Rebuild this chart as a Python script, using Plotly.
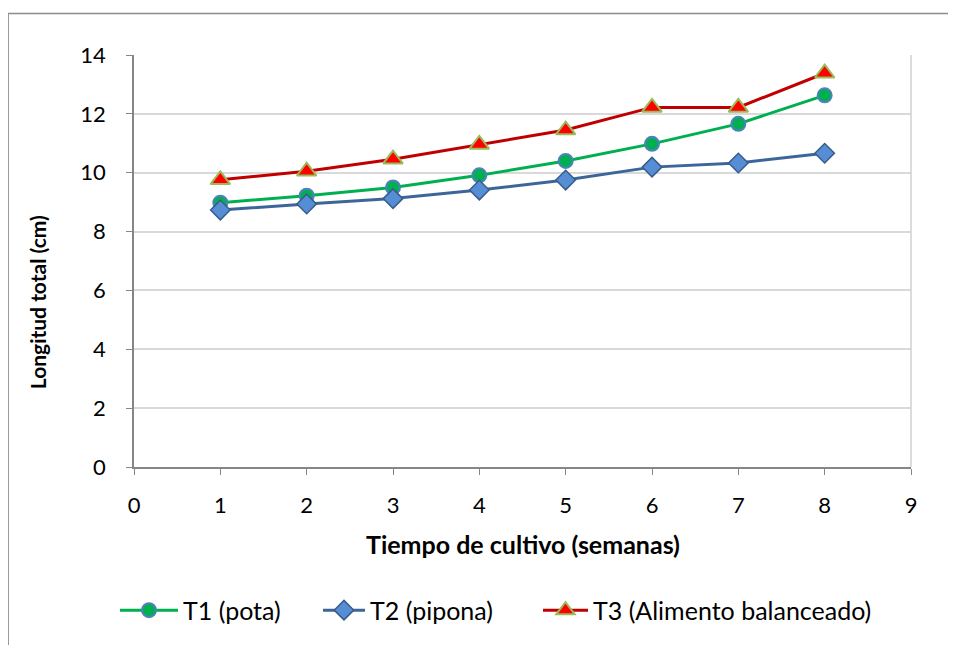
import plotly.graph_objects as go

weeks = [1, 2, 3, 4, 5, 6, 7, 8]
t1_pota = [8.98, 9.22, 9.50, 9.91, 10.40, 10.98, 11.66, 12.63]
t2_pipona = [8.73, 8.94, 9.12, 9.41, 9.75, 10.19, 10.33, 10.66]
t3_balanceado = [9.76, 10.05, 10.46, 10.96, 11.45, 12.22, 12.22, 13.38]
names = ["T1 (pota)", "T2 (pipona)", "T3 (Alimento balanceado)"]
x_title = "Tiempo de cultivo (semanas)"
y_title = "Longitud total (cm)"

FONT = "Lato"

fig = go.Figure()
fig.add_trace(go.Scatter(
    x=weeks, y=t1_pota, name=names[0], mode="lines+markers", legend="legend",
    line=dict(color="#00b050", width=3),
    marker=dict(symbol="circle", size=14, color="#00b050",
                line=dict(color="#4f81bd", width=2))))
fig.add_trace(go.Scatter(
    x=weeks, y=t2_pipona, name=names[1], mode="lines+markers", legend="legend2",
    line=dict(color="#3c6699", width=3),
    marker=dict(symbol="diamond", size=15, color="#558ed5",
                line=dict(color="#385d8a", width=1.5))))
fig.add_trace(go.Scatter(
    x=weeks, y=t3_balanceado, name=names[2], mode="lines+markers", legend="legend3",
    line=dict(color="#c00000", width=3),
    marker=dict(symbol="triangle-up", size=17, color="#ff0000",
                line=dict(color="#9bbb59", width=2))))

PW = 777.0  # plot width in px, for converting legend positions
def px_to_paper(px):
    return (px - 134) / PW

leg_common = dict(orientation="h", xanchor="left", y=-0.348, yanchor="middle",
                  font=dict(family=FONT, size=25), bgcolor="rgba(0,0,0,0)")

fig.update_layout(
    width=948, height=637,
    margin=dict(l=126, r=45, t=47, b=176),
    paper_bgcolor="white", plot_bgcolor="white",
    font=dict(family=FONT, size=22, color="black"),
    showlegend=True,
    legend=dict(x=px_to_paper(115), itemwidth=58, **leg_common),
    legend2=dict(x=px_to_paper(318), itemwidth=42, **leg_common),
    legend3=dict(x=px_to_paper(538), itemwidth=45, **leg_common),
    shapes=[
        dict(type="line", xref="paper", yref="paper", x0=-0.162, x1=1.2, y0=1.101, y1=1.101,
             line=dict(color="#8c8c8c", width=1.5)),
        dict(type="line", xref="paper", yref="paper", x0=-0.162, x1=-0.162, y0=1.101, y1=-0.5,
             line=dict(color="#8c8c8c", width=1.5)),
        dict(type="line", xref="paper", yref="paper", x0=1, x1=1, y0=0, y1=1,
             line=dict(color="#d0d0d0", width=1.5)),
    ],
    annotations=[
        dict(text="<b>" + x_title + "</b>", xref="paper", yref="paper", x=0.5, y=-0.188,
             xanchor="center", yanchor="middle", showarrow=False,
             font=dict(family=FONT, size=25)),
        dict(text="<b>" + y_title + "</b>", xref="paper", yref="paper", x=-0.1248, y=0.40,
             xanchor="center", yanchor="middle", showarrow=False, textangle=-90,
             font=dict(family=FONT, size=21)),
    ],
)
fig.update_xaxes(
    range=[0, 9], tickmode="linear", tick0=0, dtick=1,
    showgrid=False, zeroline=False,
    showline=True, linecolor="#868686", linewidth=1.5,
    ticks="outside", ticklen=6, tickcolor="#868686", ticklabelstandoff=12,
)
fig.update_yaxes(
    range=[0, 14], tickmode="linear", tick0=0, dtick=2,
    showgrid=True, gridcolor="#d9d9d9", gridwidth=1.5, zeroline=False,
    showline=True, linecolor="#868686", linewidth=1.5,
    ticks="outside", ticklen=6, tickcolor="#868686", ticklabelstandoff=16,
)

fig.write_html("out.html")
